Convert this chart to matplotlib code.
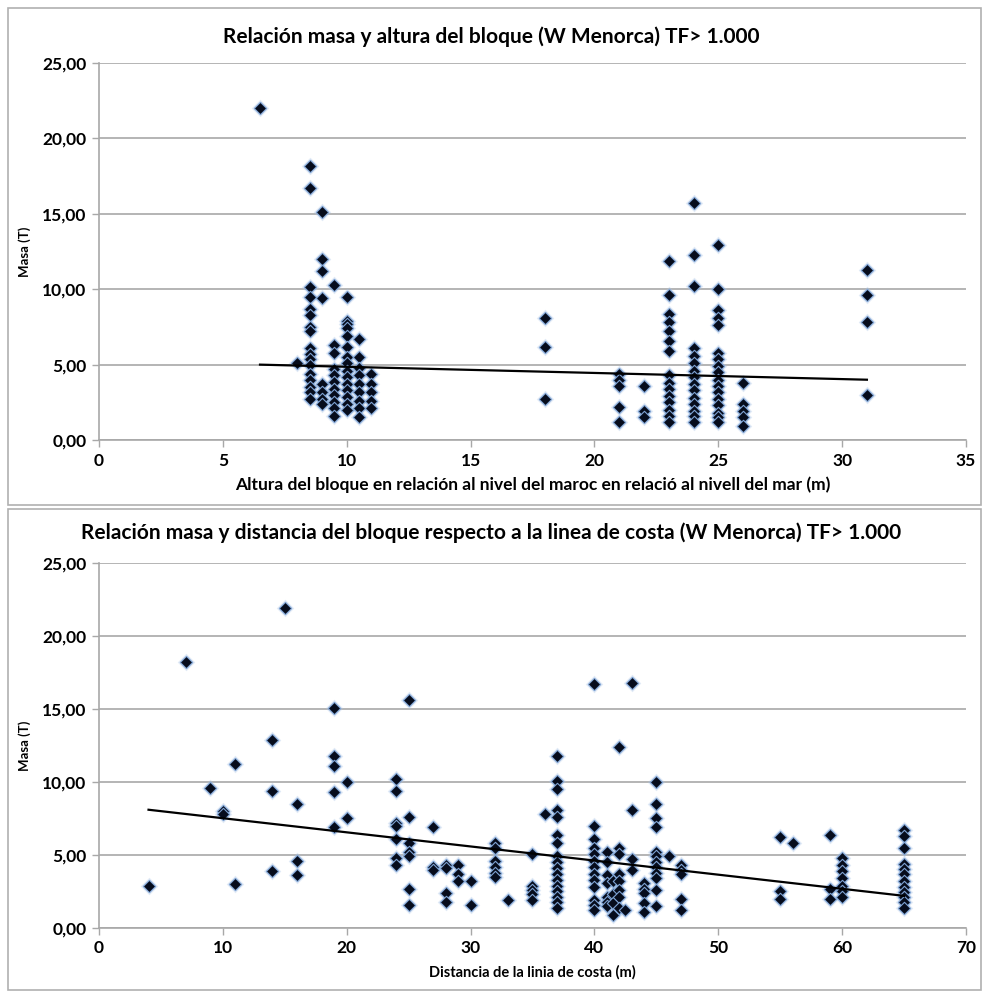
import numpy as np
import matplotlib.pyplot as plt
from matplotlib.patches import Rectangle
from matplotlib.ticker import FuncFormatter, MultipleLocator

plt.rcParams['font.family'] = ['Lato', 'DejaVu Sans']

# --- top chart: mass vs height of the block above sea level ---
alt_cols = {
    6.5: [22.0],
    8.0: [5.1],
    8.5: [18.2, 16.7, 10.15, 9.5, 8.7, 8.3, 7.5, 7.2, 6.1, 5.7, 5.4, 4.96, 4.4, 4.0, 3.5, 3.2, 2.7],
    9.0: [15.1, 12.0, 11.2, 9.4, 3.7, 3.2, 2.7, 2.4],
    9.5: [10.3, 6.3, 5.8, 4.7, 4.3, 3.85, 3.4, 3.0, 2.5, 2.1, 1.6],
    10.0: [9.5, 7.9, 7.7, 7.4, 6.9, 6.2, 5.5, 5.1, 4.6, 4.2, 3.7, 3.3, 2.85, 2.4, 2.0],
    10.5: [6.7, 5.5, 4.8, 4.3, 3.7, 3.2, 2.6, 2.1, 1.5],
    11.0: [4.4, 3.7, 3.2, 2.6, 2.1],
    18.0: [8.1, 6.2, 2.7],
    21.0: [4.4, 4.0, 3.6, 2.2, 1.2],
    22.0: [3.6, 1.9, 1.5],
    23.0: [11.9, 9.6, 8.35, 7.8, 7.25, 6.6, 5.9, 4.3, 3.8, 3.4, 2.9, 2.5, 2.0, 1.6, 1.2],
    24.0: [15.7, 12.3, 10.2, 6.1, 5.6, 5.1, 4.6, 4.2, 3.7, 3.3, 2.8, 2.4, 1.9, 1.6, 1.2],
    25.0: [12.9, 10.0, 8.6, 8.1, 7.6, 5.8, 5.4, 4.9, 4.5, 4.0, 3.6, 3.2, 2.7, 2.3, 1.8, 1.5, 1.2],
    26.0: [3.8, 2.4, 1.9, 1.5, 0.95],
    31.0: [11.3, 9.6, 7.8, 3.0],
}
# Excel linear trend line (x range, slope, intercept)
alt_trend = (6.5, 31.0, -0.0408, 5.265)

# --- bottom chart: mass vs distance to the coast line ---
dist_cols = {
    4: [2.9], 7: [18.2], 9: [9.6], 10: [8.0, 7.8], 11: [11.2, 3.0],
    14: [12.9, 9.4, 3.9], 15: [21.9], 16: [8.5, 4.6, 3.6],
    19: [15.1, 11.8, 11.1, 9.3, 6.9], 20: [10.0, 7.5],
    24: [10.2, 9.4, 7.2, 7.0, 6.1, 4.8, 4.3],
    25: [15.6, 7.6, 5.8, 5.2, 4.9, 2.7, 1.6],
    27: [6.9, 4.2, 4.0], 28: [4.3, 4.1, 2.4, 1.8], 29: [4.3, 3.7, 3.2],
    30: [3.2, 1.6], 32: [5.8, 5.5, 4.6, 4.2, 3.8, 3.5], 33: [1.9],
    35: [5.1, 2.9, 2.6, 2.3, 1.9], 36: [7.8],
    37: [11.8, 10.1, 9.5, 8.1, 7.6, 6.4, 5.8, 4.9, 4.5, 4.1, 3.7, 3.3, 2.9, 2.5, 2.1, 1.8, 1.4],
    40: [16.7, 7.0, 6.1, 5.5, 5.1, 4.6, 4.2, 3.7, 3.3, 2.8, 1.9, 1.6, 1.2],
    41: [5.2, 4.5, 3.6, 3.05, 2.15, 1.8, 1.5], 41.5: [3.2, 2.3, 1.7, 0.9],
    42: [12.4, 5.5, 5.1, 3.7, 3.2, 2.6, 2.15, 1.4], 42.5: [1.25],
    43: [16.8, 8.1, 4.75, 4.0], 44: [3.05, 2.7, 2.4, 1.7, 1.1],
    45: [10.0, 8.5, 7.5, 6.9, 5.2, 4.9, 4.5, 4.2, 3.8, 3.4, 2.6, 1.5],
    46: [4.9], 47: [4.3, 4.0, 3.7, 2.0, 1.2],
    55: [6.2, 2.5, 2.0], 56: [5.8], 59: [6.4, 2.7, 2.0],
    60: [4.8, 4.3, 3.9, 3.4, 2.9, 2.5, 2.1],
    65: [6.7, 6.3, 5.5, 4.4, 4.05, 3.7, 3.25, 2.8, 2.45, 2.1, 1.8, 1.4],
}
dist_trend = (4.0, 65.0, -0.0967, 8.487)

title_top = "Relación masa y altura del bloque (W Menorca) TF> 1.000"
title_bot = "Relación masa y distancia del bloque respecto a la linea de costa (W Menorca) TF> 1.000"
xlabel_top = "Altura del bloque en relación al nivel del maroc en relació al nivell del mar (m)"
xlabel_bot = "Distancia de la linia de costa (m)"


def flatten(cols):
    xs, ys = [], []
    for x, vals in cols.items():
        xs += [x] * len(vals)
        ys += vals
    return np.array(xs, dtype=float), np.array(ys, dtype=float)


def comma_fmt(v, pos):
    return f"{v:.2f}".replace('.', ',')


def draw_panel(fig, rect, cols, trend, xmax, xstep, title, xlabel, xlabel_size, title_y):
    ax = fig.add_axes(rect)
    x, y = flatten(cols)
    # soft bluish glow under the markers, then the markers themselves
    ax.scatter(x, y, marker='D', s=80, color='#a9c3e6', alpha=0.35, linewidth=0, zorder=2)
    ax.scatter(x, y, marker='D', s=40, facecolor='#060c1c', edgecolor='#7ea3d4',
               linewidth=0.8, zorder=3)

    x0, x1, slope, icpt = trend
    xx = np.array([x0, x1])
    ax.plot(xx, slope * xx + icpt, color='black', lw=1.6, zorder=4)

    ax.set_xlim(0, xmax)
    ax.set_ylim(0, 25)
    ax.xaxis.set_major_locator(MultipleLocator(xstep))
    ax.yaxis.set_major_locator(MultipleLocator(5))
    ax.yaxis.set_major_formatter(FuncFormatter(comma_fmt))
    ax.grid(axis='y', color='#a8a8a8', lw=1.2)
    ax.set_axisbelow(True)
    for s in ['top', 'right']:
        ax.spines[s].set_visible(False)
    for s in ['left', 'bottom']:
        ax.spines[s].set_color('#a8a8a8')
        ax.spines[s].set_linewidth(1.2)
    ax.tick_params(colors='#a8a8a8', length=5, width=1, labelcolor='black',
                   labelsize=12.5, pad=4)
    for lab in ax.get_xticklabels() + ax.get_yticklabels():
        lab.set_fontweight('bold')
    ax.set_xlabel(xlabel, fontsize=xlabel_size, fontweight='bold', labelpad=6)
    ax.set_ylabel("Masa (T)", fontsize=9.5, fontweight='bold')
    ax.yaxis.set_label_coords(-0.078, 0.5)
    fig.text(0.5, title_y, title, ha='center', va='center', fontsize=15,
             fontweight='bold')
    return ax


fig = plt.figure(figsize=(9.83, 9.94), dpi=100)

# panel borders
fig.patches.append(Rectangle((0.008, 0.492), 0.99, 0.5, transform=fig.transFigure,
                             fill=False, edgecolor='#b0b0b0', lw=1.2))
fig.patches.append(Rectangle((0.008, 0.004), 0.99, 0.484, transform=fig.transFigure,
                             fill=False, edgecolor='#b0b0b0', lw=1.2))

draw_panel(fig, [0.1007, 0.5573, 0.882, 0.3793], alt_cols, alt_trend, 35, 5,
           title_top, xlabel_top, 12.5, 0.963)
draw_panel(fig, [0.1007, 0.0664, 0.882, 0.3672], dist_cols, dist_trend, 70, 10,
           title_bot, xlabel_bot, 10.5, 0.464)

fig.savefig("out.png", dpi=100)
